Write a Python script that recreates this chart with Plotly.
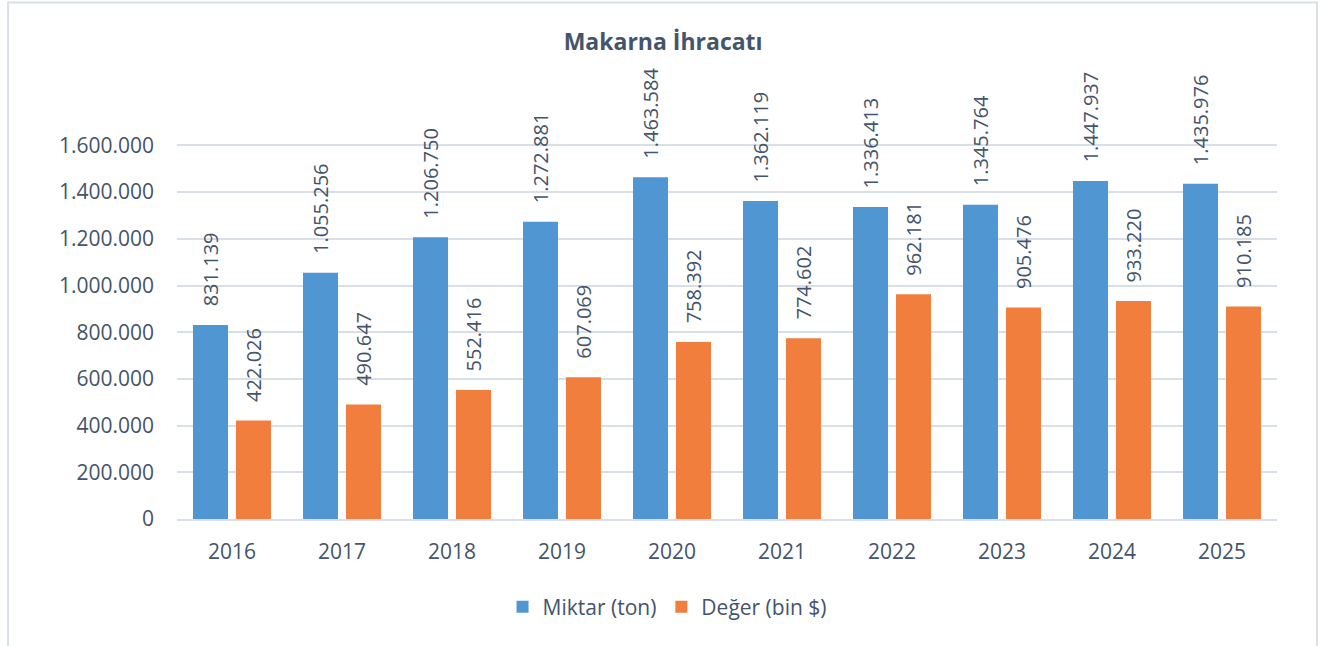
import plotly.graph_objects as go

years = ["2016", "2017", "2018", "2019", "2020", "2021", "2022", "2023", "2024", "2025"]
miktar = [831139, 1055256, 1206750, 1272881, 1463584, 1362119, 1336413, 1345764, 1447937, 1435976]
deger = [422026, 490647, 552416, 607069, 758392, 774602, 962181, 905476, 933220, 910185]
y_ticks = [0, 200000, 400000, 600000, 800000, 1000000, 1200000, 1400000, 1600000]

TXT = "#44546A"
GRID = "#D9DFE6"
FONT = "Open Sans"
PAD = "\u00a0\u00a0\u00a0"

fig = go.Figure()
fig.add_trace(go.Bar(
    x=years, y=miktar, name="Miktar (ton)",
    marker=dict(color="#5096D2", line=dict(width=0)),
    texttemplate=PAD + "%{y:,.0f}", textposition="outside", textangle=-90,
    constraintext="none",
    textfont=dict(family=FONT, size=20, color=TXT), cliponaxis=False,
))
fig.add_trace(go.Bar(
    x=years, y=deger, name="Değer (bin $)",
    marker=dict(color="#F27E3E", line=dict(width=0)),
    texttemplate=PAD + "%{y:,.0f}", textposition="outside", textangle=-90,
    constraintext="none",
    textfont=dict(family=FONT, size=20, color=TXT), cliponaxis=False,
))

fig.update_layout(
    width=1321, height=646,
    separators=",.",
    paper_bgcolor="white", plot_bgcolor="white",
    margin=dict(l=177, r=44, t=60, b=127, autoexpand=False),
    barmode="group", bargap=0.218, bargroupgap=0.186,
    title=dict(text="<b>Makarna İhracatı</b>", x=0.502, xanchor="center", y=0.935, yanchor="middle",
               font=dict(family=FONT, size=23, color=TXT)),
    font=dict(family=FONT, color=TXT),
    legend=dict(orientation="h", x=0.4455, xanchor="center", y=-0.1917, yanchor="middle",
                font=dict(family=FONT, size=21, color=TXT), itemclick=False, traceorder="normal"),
    showlegend=True,
)
fig.update_xaxes(
    showgrid=False, showline=True, linecolor=GRID, linewidth=2,
    ticks="outside", ticklen=13, tickcolor="rgba(0,0,0,0)",
    tickfont=dict(family=FONT, size=21, color=TXT), automargin=False,
)
fig.update_yaxes(
    range=[0, 1966000], tickvals=y_ticks, tickformat=",.0f",
    showgrid=True, gridcolor=GRID, gridwidth=2, zeroline=False,
    ticks="", ticklabelstandoff=22, automargin=False,
    tickfont=dict(family=FONT, size=21, color=TXT),
)
fig.add_shape(type="rect", xref="paper", yref="paper",
              x0=-0.1536, x1=1.0364, y0=-0.3, y1=1.1253,
              line=dict(color=GRID, width=2), fillcolor="rgba(0,0,0,0)", layer="below")

fig.write_html("out.html", post_script="document.body.style.margin='0';",
               config={"displayModeBar": False})
